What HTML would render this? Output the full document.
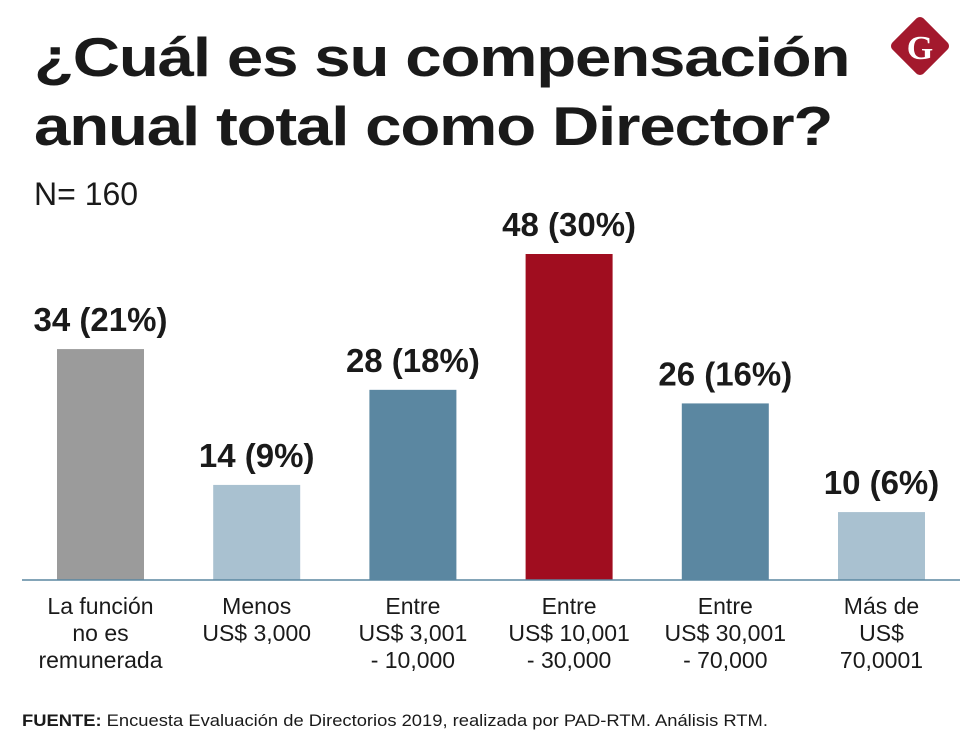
<!DOCTYPE html>
<html><head><meta charset="utf-8"><style>
body{margin:0;background:#fff;width:980px;height:751px;overflow:hidden;font-family:"Liberation Sans",sans-serif;color:#1a1a1a;position:relative}
.t{position:absolute;left:34px;font-weight:bold;font-size:55px;letter-spacing:-1px;line-height:1;transform-origin:0 0;transform:scaleX(1.19);white-space:nowrap}
</style></head><body>
<div class="t" style="top:30px">¿Cuál es su compensación</div>
<div class="t" style="top:99px">anual total como Director?</div>
<div style="position:absolute;left:34px;top:176px;font-size:32px">N= 160</div>
<svg style="position:absolute;left:886px;top:12px" width="68" height="68"><rect x="12" y="12" width="44" height="44" rx="5" fill="#a3192d" transform="rotate(45 34 34)"/><text x="34" y="47" text-anchor="middle" font-family="Liberation Serif" font-weight="bold" font-size="34" fill="#fff">G</text></svg>
<svg id="c" style="position:absolute;left:0;top:0" width="980" height="751"></svg>
<div style="position:absolute;left:22px;top:711px;font-size:17px;transform-origin:0 0;transform:scaleX(1.08);white-space:nowrap"><b>FUENTE:</b> Encuesta Evaluación de Directorios 2019, realizada por PAD-RTM. Análisis RTM.</div>
<script>
const categories=[["La función","no es","remunerada"],["Menos","US$ 3,000"],["Entre","US$ 3,001","- 10,000"],["Entre","US$ 10,001","- 30,000"],["Entre","US$ 30,001","- 70,000"],["Más de","US$","70,0001"]];
const values=[34,14,28,48,26,10];
const pcts=["21%","9%","18%","30%","16%","6%"];
const colors=["#9b9b9b","#a9c1d0","#5b87a1","#a00d1f","#5b87a1","#a9c1d0"];
const svg=document.getElementById('c');const NS="http://www.w3.org/2000/svg";
const base=580,scale=326/48,x0=57,step=156.2,bw=87;
const y=v=>base-v*scale;
function mk(t,a){const e=document.createElementNS(NS,t);for(const k in a)e.setAttribute(k,a[k]);svg.appendChild(e);return e;}
values.forEach((v,i)=>{
 const x=x0+i*step;
 const r=mk('rect',{x:x,y:y(v),width:bw,height:base-y(v),fill:colors[i]});
 
 
 const l=mk('text',{x:x+bw/2,y:y(v)-18,'text-anchor':'middle','font-size':'33','font-weight':'bold',fill:'#1a1a1a'});
 l.textContent=v+' ('+pcts[i]+')';
 
 
 categories[i].forEach((s,j)=>{
  const t=mk('text',{x:x+bw/2,y:614+j*27,'text-anchor':'middle','font-size':'23',fill:'#1a1a1a'});
  t.textContent=s;
  
  
 });
});
const ax=mk('line',{x1:22,x2:960,y1:base,y2:base,stroke:'#5b87a1','stroke-width':1.5});


</script>
</body></html>
